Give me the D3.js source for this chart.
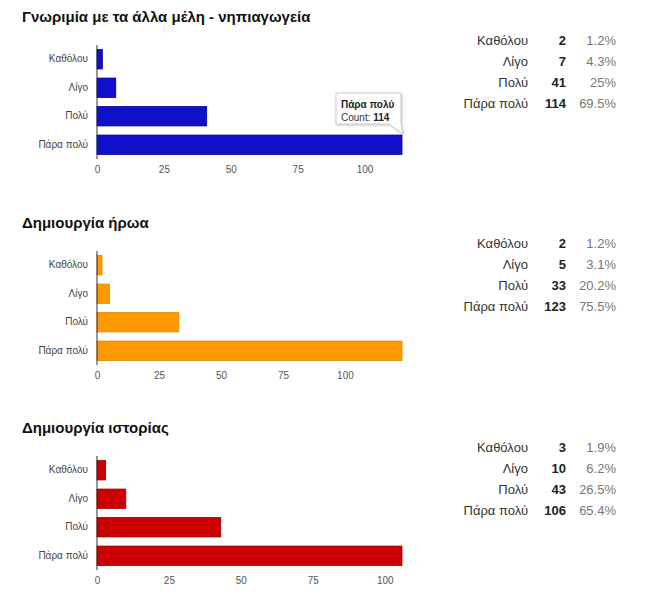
<!DOCTYPE html>
<html><head><meta charset="utf-8">
<script src="https://cdn.jsdelivr.net/npm/d3@7"></script>
<style>body{margin:0;background:#fff;font-family:"Liberation Sans",Arial,sans-serif}</style>
</head><body><svg id="c" width="660" height="600"></svg>
<script>
const categories = ["Καθόλου", "Λίγο", "Πολύ", "Πάρα πολύ"];
const titles = ["Γνωριμία με τα άλλα μέλη - νηπιαγωγεία", "Δημιουργία ήρωα", "Δημιουργία ιστορίας"];
const counts1 = [2, 7, 41, 114];
const counts2 = [2, 5, 33, 123];
const counts3 = [3, 10, 43, 106];
const pct1 = ["1.2%", "4.3%", "25%", "69.5%"];
const pct2 = ["1.2%", "3.1%", "20.2%", "75.5%"];
const pct3 = ["1.9%", "6.2%", "26.5%", "65.4%"];
const tickValues = [0, 25, 50, 75, 100];
const colors = ["#1010cc", "#ff9900", "#cc0000"];
const strokes = ["#00008a", "#e08600", "#990000"];

const svg = d3.select("#c");
const panels = [
  {counts: counts1, pct: pct1, top: 0, tableTop: 40},
  {counts: counts2, pct: pct2, top: 206, tableTop: 243},
  {counts: counts3, pct: pct3, top: 411, tableTop: 447}
];

panels.forEach((p, i) => {
  const g = svg.append("g").attr("transform", `translate(0,${p.top})`);
  g.append("text").attr("x", 22).attr("y", 22)
    .attr("font-size", 15).attr("font-weight", "bold").attr("fill", "#111")
    .text(titles[i]);

  const x = d3.scaleLinear().domain([0, d3.max(p.counts)]).range([97, 402]);
  const y = d3.scaleBand().domain(categories).range([45, 159]).paddingInner(0.32).paddingOuter(0.16);

  g.selectAll("rect.bar").data(categories).join("rect")
    .attr("class", "bar")
    .attr("x", x(0)).attr("y", d => y(d))
    .attr("width", (d, k) => x(p.counts[k]) - x(0))
    .attr("height", y.bandwidth())
    .attr("fill", colors[i]).attr("stroke", strokes[i]).attr("stroke-width", 0.8);

  const yAxis = d3.axisLeft(y).tickSize(0).tickPadding(9);
  const ya = g.append("g").attr("transform", `translate(${x(0)},0)`).call(yAxis);
  ya.select(".domain").attr("stroke", "#333").attr("d", `M0,45V159`);
  ya.selectAll("text").attr("font-size", 10).attr("fill", "#444")
    .attr("font-family", "'Liberation Sans',Arial,sans-serif");

  const xAxis = d3.axisBottom(x).tickValues(tickValues).tickSize(0).tickPadding(6);
  const xa = g.append("g").attr("transform", `translate(0,160)`).call(xAxis);
  xa.select(".domain").remove();
  xa.selectAll("text").attr("font-size", 10).attr("fill", "#555")
    .attr("font-family", "'Liberation Sans',Arial,sans-serif");

  // table
  const tg = svg.append("g");
  categories.forEach((c, k) => {
    const ty = p.tableTop + k * 21 + 5;
    tg.append("text").attr("x", 528).attr("y", ty).attr("text-anchor", "end")
      .attr("font-size", 13).attr("fill", "#333").text(c);
    tg.append("text").attr("x", 566).attr("y", ty).attr("text-anchor", "end")
      .attr("font-size", 13).attr("font-weight", "bold").attr("fill", "#222").text(p.counts[k]);
    tg.append("text").attr("x", 616).attr("y", ty).attr("text-anchor", "end")
      .attr("font-size", 13).attr("fill", "#777").text(p.pct[k]);
  });

  if (i === 0) {
    const last = categories[3];
    const bx = x(p.counts[3]);
    const by = y(last);
    const tt = g.append("g");
    const L = 336, R = bx - 1, T = 93, B = 124;
    tt.append("path")
      .attr("d", `M${L},${T}H${R}V${B}L${bx + 1},${by - 1}L${R - 12},${B}H${L}Z`)
      .attr("fill", "#fff").attr("stroke", "#ccc").attr("stroke-width", 1)
      .style("filter", "drop-shadow(1px 1px 1px rgba(0,0,0,0.2))");
    tt.append("text").attr("x", 341).attr("y", 108).attr("font-size", 10)
      .attr("font-weight", "bold").attr("fill", "#222").text(last);
    const t2 = tt.append("text").attr("x", 341).attr("y", 121).attr("font-size", 10).attr("fill", "#333");
    t2.append("tspan").text("Count: ");
    t2.append("tspan").attr("font-weight", "bold").attr("fill", "#222").text(p.counts[3]);
  }
});
</script></body></html>
